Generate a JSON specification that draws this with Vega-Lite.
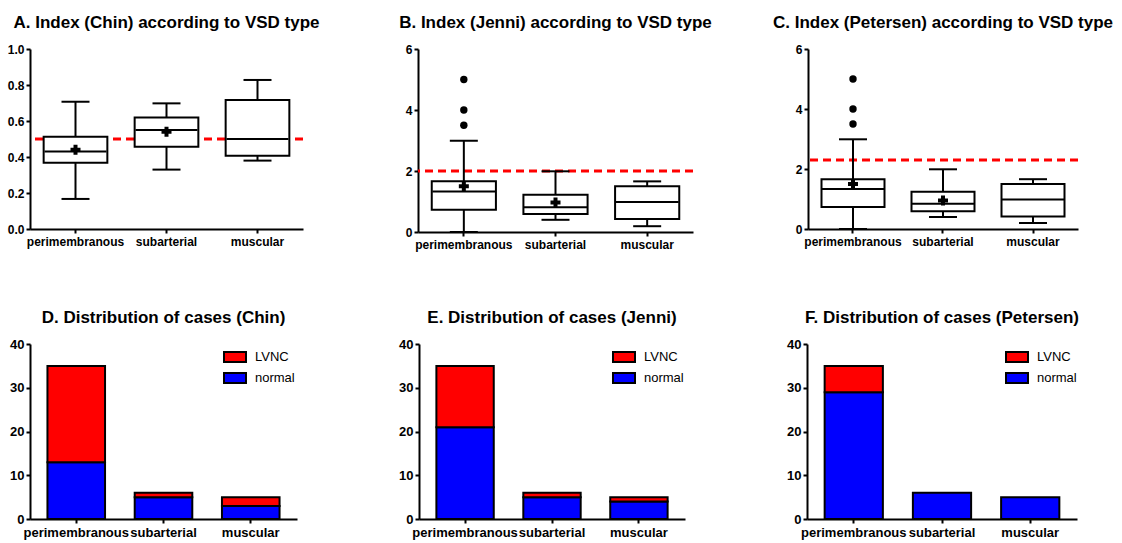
{
  "$schema": "https://vega.github.io/schema/vega-lite/v6.json",
  "background": "white",
  "padding": {"left": 7, "top": 14, "right": 5, "bottom": 3},
  "config": {
    "view": {"stroke": null},
    "font": "Liberation Sans",
    "axis": {
      "domainColor": "black", "domainWidth": 2, "tickColor": "black", "tickWidth": 2, "tickSize": 4,
      "labelFont": "Liberation Sans", "labelFontWeight": "bold", "labelFontSize": 12, "labelColor": "black",
      "labelPadding": 2, "grid": false, "labelOverlap": false
    },
    "axisX": {"labelPadding": 3},
    "tick": {"opacity": 1},
    "title": {"font": "Liberation Sans", "fontSize": 17, "fontWeight": "bold", "color": "black", "anchor": "middle", "offset": 11},
    "legend": {
      "title": null, "orient": "none", "legendX": 194, "legendY": 2, "padding": 0,
      "symbolType": "M-1.1,-0.5H1.1V0.5H-1.1Z", "symbolSize": 400, "symbolStrokeColor": "black", "symbolStrokeWidth": 2,
      "labelFont": "Liberation Sans", "labelFontSize": 13, "labelColor": "black", "rowPadding": 1, "labelOffset": 9
    }
  },
  "spacing": 59,
  "resolve": {"scale": {"color": "independent"}, "legend": {"color": "independent"}},
  "vconcat": [
    {
      "spacing": 115,
      "bounds": "flush",
      "hconcat": [
        {
          "width": 273, "height": 180,
          "title": "A. Index (Chin) according to VSD type",
          "data": {"values": [
            {"type": "perimembranous", "min": 0.167, "q1": 0.368, "median": 0.43, "q3": 0.513, "max": 0.707, "mean": 0.44},
            {"type": "subarterial", "min": 0.33, "q1": 0.457, "median": 0.55, "q3": 0.62, "max": 0.698, "mean": 0.54},
            {"type": "muscular", "min": 0.38, "q1": 0.407, "median": 0.5, "q3": 0.717, "max": 0.828, "mean": null}
          ]},
          "layer": [
            {"data": {"values": [{"threshold": 0.5}]}, "mark": {"type": "rule", "color": "#FF0000", "strokeWidth": 3, "strokeDash": [8, 5]},
             "encoding": {"y": {"field": "threshold", "type": "quantitative", "title": null, "scale": {"domain": [0, 1], "nice": false}, "axis": {"values": [0, 0.2, 0.4, 0.6, 0.8, 1.0], "format": ".1f"}}}},
            {"mark": {"type": "rule", "color": "black", "strokeWidth": 2},
             "encoding": {"x": {"field": "type", "type": "nominal", "sort": ["perimembranous", "subarterial", "muscular"], "title": null, "scale": {"paddingInner": 0.3, "paddingOuter": 0.15}, "axis": {"labelAngle": 0}},
                          "y": {"field": "min", "type": "quantitative", "title": null, "scale": {"domain": [0, 1], "nice": false}, "axis": {"values": [0, 0.2, 0.4, 0.6, 0.8, 1.0], "format": ".1f"}}, "y2": {"field": "max"}}},
            {"mark": {"type": "bar", "fill": "white", "stroke": "black", "strokeWidth": 2},
             "encoding": {"x": {"field": "type", "type": "nominal", "sort": ["perimembranous", "subarterial", "muscular"], "title": null},
                          "y": {"field": "q1", "type": "quantitative", "title": null, "axis": {"values": [0, 0.2, 0.4, 0.6, 0.8, 1.0], "format": ".1f"}}, "y2": {"field": "q3"}}},
            {"mark": {"type": "tick", "color": "black", "size": 62, "thickness": 2},
             "encoding": {"x": {"field": "type", "type": "nominal", "sort": ["perimembranous", "subarterial", "muscular"], "title": null},
                          "y": {"field": "median", "type": "quantitative", "title": null, "axis": {"values": [0, 0.2, 0.4, 0.6, 0.8, 1.0], "format": ".1f"}}}},
            {"mark": {"type": "tick", "color": "black", "size": 28, "thickness": 2},
             "encoding": {"x": {"field": "type", "type": "nominal", "sort": ["perimembranous", "subarterial", "muscular"], "title": null},
                          "y": {"field": "min", "type": "quantitative", "title": null, "axis": {"values": [0, 0.2, 0.4, 0.6, 0.8, 1.0], "format": ".1f"}}}},
            {"mark": {"type": "tick", "color": "black", "size": 28, "thickness": 2},
             "encoding": {"x": {"field": "type", "type": "nominal", "sort": ["perimembranous", "subarterial", "muscular"], "title": null},
                          "y": {"field": "max", "type": "quantitative", "title": null, "axis": {"values": [0, 0.2, 0.4, 0.6, 0.8, 1.0], "format": ".1f"}}}},
            {"mark": {"type": "point", "shape": "cross", "filled": true, "color": "black", "size": 100, "opacity": 1},
             "encoding": {"x": {"field": "type", "type": "nominal", "sort": ["perimembranous", "subarterial", "muscular"], "title": null},
                          "y": {"field": "mean", "type": "quantitative", "title": null, "axis": {"values": [0, 0.2, 0.4, 0.6, 0.8, 1.0], "format": ".1f"}}}}
          ]
        },
        {
          "width": 275, "height": 183,
          "title": "B. Index (Jenni) according to VSD type",
          "data": {"values": [
            {"type": "perimembranous", "min": 0, "q1": 0.73, "median": 1.33, "q3": 1.66, "max": 2.99, "mean": 1.5},
            {"type": "subarterial", "min": 0.4, "q1": 0.59, "median": 0.81, "q3": 1.22, "max": 1.99, "mean": 0.97},
            {"type": "muscular", "min": 0.19, "q1": 0.43, "median": 0.98, "q3": 1.5, "max": 1.66, "mean": null}
          ]},
          "layer": [
            {"data": {"values": [{"threshold": 2.0}]}, "mark": {"type": "rule", "color": "#FF0000", "strokeWidth": 3, "strokeDash": [8, 5]},
             "encoding": {"y": {"field": "threshold", "type": "quantitative", "title": null, "scale": {"domain": [0, 6], "nice": false}, "axis": {"values": [0, 2, 4, 6]}}}},
            {"mark": {"type": "rule", "color": "black", "strokeWidth": 2},
             "encoding": {"x": {"field": "type", "type": "nominal", "sort": ["perimembranous", "subarterial", "muscular"], "title": null, "scale": {"paddingInner": 0.3, "paddingOuter": 0.15}, "axis": {"labelAngle": 0}},
                          "y": {"field": "min", "type": "quantitative", "title": null, "axis": {"values": [0, 2, 4, 6]}}, "y2": {"field": "max"}}},
            {"mark": {"type": "bar", "fill": "white", "stroke": "black", "strokeWidth": 2},
             "encoding": {"x": {"field": "type", "type": "nominal", "sort": ["perimembranous", "subarterial", "muscular"], "title": null},
                          "y": {"field": "q1", "type": "quantitative", "title": null, "axis": {"values": [0, 2, 4, 6]}}, "y2": {"field": "q3"}}},
            {"mark": {"type": "tick", "color": "black", "size": 63, "thickness": 2},
             "encoding": {"x": {"field": "type", "type": "nominal", "sort": ["perimembranous", "subarterial", "muscular"], "title": null},
                          "y": {"field": "median", "type": "quantitative", "title": null, "axis": {"values": [0, 2, 4, 6]}}}},
            {"mark": {"type": "tick", "color": "black", "size": 28, "thickness": 2},
             "encoding": {"x": {"field": "type", "type": "nominal", "sort": ["perimembranous", "subarterial", "muscular"], "title": null},
                          "y": {"field": "min", "type": "quantitative", "title": null, "axis": {"values": [0, 2, 4, 6]}}}},
            {"mark": {"type": "tick", "color": "black", "size": 28, "thickness": 2},
             "encoding": {"x": {"field": "type", "type": "nominal", "sort": ["perimembranous", "subarterial", "muscular"], "title": null},
                          "y": {"field": "max", "type": "quantitative", "title": null, "axis": {"values": [0, 2, 4, 6]}}}},
            {"mark": {"type": "point", "shape": "cross", "filled": true, "color": "black", "size": 100, "opacity": 1},
             "encoding": {"x": {"field": "type", "type": "nominal", "sort": ["perimembranous", "subarterial", "muscular"], "title": null},
                          "y": {"field": "mean", "type": "quantitative", "title": null, "axis": {"values": [0, 2, 4, 6]}}}},
            {"data": {"values": [
              {"type": "perimembranous", "outlier": 3.5},
              {"type": "perimembranous", "outlier": 4.0},
              {"type": "perimembranous", "outlier": 5.0}
            ]},
             "mark": {"type": "point", "shape": "circle", "filled": true, "color": "black", "size": 55, "opacity": 1},
             "encoding": {"x": {"field": "type", "type": "nominal", "sort": ["perimembranous", "subarterial", "muscular"], "title": null},
                          "y": {"field": "outlier", "type": "quantitative", "title": null, "axis": {"values": [0, 2, 4, 6]}}}}
          ]
        },
        {
          "width": 270, "height": 180,
          "title": "C. Index (Petersen) according to VSD type",
          "data": {"values": [
            {"type": "perimembranous", "min": 0, "q1": 0.73, "median": 1.33, "q3": 1.66, "max": 2.99, "mean": 1.5},
            {"type": "subarterial", "min": 0.4, "q1": 0.59, "median": 0.84, "q3": 1.24, "max": 1.99, "mean": 0.95},
            {"type": "muscular", "min": 0.2, "q1": 0.42, "median": 0.98, "q3": 1.5, "max": 1.66, "mean": null}
          ]},
          "layer": [
            {"data": {"values": [{"threshold": 2.3}]}, "mark": {"type": "rule", "color": "#FF0000", "strokeWidth": 3, "strokeDash": [8, 5]},
             "encoding": {"y": {"field": "threshold", "type": "quantitative", "title": null, "scale": {"domain": [0, 6], "nice": false}, "axis": {"values": [0, 2, 4, 6]}}}},
            {"mark": {"type": "rule", "color": "black", "strokeWidth": 2},
             "encoding": {"x": {"field": "type", "type": "nominal", "sort": ["perimembranous", "subarterial", "muscular"], "title": null, "scale": {"paddingInner": 0.3, "paddingOuter": 0.15}, "axis": {"labelAngle": 0}},
                          "y": {"field": "min", "type": "quantitative", "title": null, "axis": {"values": [0, 2, 4, 6]}}, "y2": {"field": "max"}}},
            {"mark": {"type": "bar", "fill": "white", "stroke": "black", "strokeWidth": 2},
             "encoding": {"x": {"field": "type", "type": "nominal", "sort": ["perimembranous", "subarterial", "muscular"], "title": null},
                          "y": {"field": "q1", "type": "quantitative", "title": null, "axis": {"values": [0, 2, 4, 6]}}, "y2": {"field": "q3"}}},
            {"mark": {"type": "tick", "color": "black", "size": 62, "thickness": 2},
             "encoding": {"x": {"field": "type", "type": "nominal", "sort": ["perimembranous", "subarterial", "muscular"], "title": null},
                          "y": {"field": "median", "type": "quantitative", "title": null, "axis": {"values": [0, 2, 4, 6]}}}},
            {"mark": {"type": "tick", "color": "black", "size": 28, "thickness": 2},
             "encoding": {"x": {"field": "type", "type": "nominal", "sort": ["perimembranous", "subarterial", "muscular"], "title": null},
                          "y": {"field": "min", "type": "quantitative", "title": null, "axis": {"values": [0, 2, 4, 6]}}}},
            {"mark": {"type": "tick", "color": "black", "size": 28, "thickness": 2},
             "encoding": {"x": {"field": "type", "type": "nominal", "sort": ["perimembranous", "subarterial", "muscular"], "title": null},
                          "y": {"field": "max", "type": "quantitative", "title": null, "axis": {"values": [0, 2, 4, 6]}}}},
            {"mark": {"type": "point", "shape": "cross", "filled": true, "color": "black", "size": 100, "opacity": 1},
             "encoding": {"x": {"field": "type", "type": "nominal", "sort": ["perimembranous", "subarterial", "muscular"], "title": null},
                          "y": {"field": "mean", "type": "quantitative", "title": null, "axis": {"values": [0, 2, 4, 6]}}}},
            {"data": {"values": [
              {"type": "perimembranous", "outlier": 3.5},
              {"type": "perimembranous", "outlier": 4.0},
              {"type": "perimembranous", "outlier": 5.0}
            ]},
             "mark": {"type": "point", "shape": "circle", "filled": true, "color": "black", "size": 55, "opacity": 1},
             "encoding": {"x": {"field": "type", "type": "nominal", "sort": ["perimembranous", "subarterial", "muscular"], "title": null},
                          "y": {"field": "outlier", "type": "quantitative", "title": null, "axis": {"values": [0, 2, 4, 6]}}}}
          ]
        }
      ]
    },
    {
      "spacing": 122,
      "bounds": "flush",
      "resolve": {"scale": {"color": "independent"}, "legend": {"color": "independent"}},
      "hconcat": [
        {
          "width": 267, "height": 175,
          "title": "D. Distribution of cases (Chin)",
          "data": {"values": [
            {"type": "perimembranous", "status": "normal", "count": 13},
            {"type": "perimembranous", "status": "LVNC", "count": 22},
            {"type": "subarterial", "status": "normal", "count": 5},
            {"type": "subarterial", "status": "LVNC", "count": 1},
            {"type": "muscular", "status": "normal", "count": 3},
            {"type": "muscular", "status": "LVNC", "count": 2}
          ]},
          "mark": {"type": "bar", "stroke": "black", "strokeWidth": 2},
          "encoding": {
            "x": {"field": "type", "type": "nominal", "sort": ["perimembranous", "subarterial", "muscular"], "title": null, "scale": {"paddingInner": 0.34, "paddingOuter": 0.2}, "axis": {"labelAngle": 0, "labelFontSize": 13}},
            "y": {"field": "count", "type": "quantitative", "stack": "zero", "title": null, "scale": {"domain": [0, 40], "nice": false}, "axis": {"values": [0, 10, 20, 30, 40], "labelFontSize": 13}},
            "color": {"field": "status", "type": "nominal", "scale": {"domain": ["LVNC", "normal"], "range": ["#FF0000", "#0000FF"]}},
            "order": {"field": "status", "sort": "descending"}
          }
        },
        {
          "width": 266, "height": 175,
          "title": "E. Distribution of cases (Jenni)",
          "data": {"values": [
            {"type": "perimembranous", "status": "normal", "count": 21},
            {"type": "perimembranous", "status": "LVNC", "count": 14},
            {"type": "subarterial", "status": "normal", "count": 5},
            {"type": "subarterial", "status": "LVNC", "count": 1},
            {"type": "muscular", "status": "normal", "count": 4},
            {"type": "muscular", "status": "LVNC", "count": 1}
          ]},
          "mark": {"type": "bar", "stroke": "black", "strokeWidth": 2},
          "encoding": {
            "x": {"field": "type", "type": "nominal", "sort": ["perimembranous", "subarterial", "muscular"], "title": null, "scale": {"paddingInner": 0.34, "paddingOuter": 0.2}, "axis": {"labelAngle": 0, "labelFontSize": 13}},
            "y": {"field": "count", "type": "quantitative", "stack": "zero", "title": null, "scale": {"domain": [0, 40], "nice": false}, "axis": {"values": [0, 10, 20, 30, 40], "labelFontSize": 13}},
            "color": {"field": "status", "type": "nominal", "scale": {"domain": ["LVNC", "normal"], "range": ["#FF0000", "#0000FF"]}},
            "order": {"field": "status", "sort": "descending"}
          }
        },
        {
          "width": 270, "height": 175,
          "title": "F. Distribution of cases (Petersen)",
          "data": {"values": [
            {"type": "perimembranous", "status": "normal", "count": 29},
            {"type": "perimembranous", "status": "LVNC", "count": 6},
            {"type": "subarterial", "status": "normal", "count": 6},
            {"type": "muscular", "status": "normal", "count": 5}
          ]},
          "mark": {"type": "bar", "stroke": "black", "strokeWidth": 2},
          "encoding": {
            "x": {"field": "type", "type": "nominal", "sort": ["perimembranous", "subarterial", "muscular"], "title": null, "scale": {"paddingInner": 0.34, "paddingOuter": 0.2}, "axis": {"labelAngle": 0, "labelFontSize": 13}},
            "y": {"field": "count", "type": "quantitative", "stack": "zero", "title": null, "scale": {"domain": [0, 40], "nice": false}, "axis": {"values": [0, 10, 20, 30, 40], "labelFontSize": 13}},
            "color": {"field": "status", "type": "nominal", "scale": {"domain": ["LVNC", "normal"], "range": ["#FF0000", "#0000FF"]}, "legend": {"legendX": 199}},
            "order": {"field": "status", "sort": "descending"}
          }
        }
      ]
    }
  ]
}
